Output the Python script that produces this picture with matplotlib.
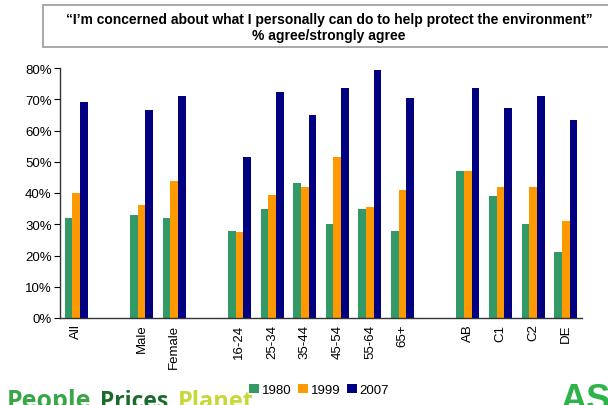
import numpy as np
import matplotlib.pyplot as plt
from matplotlib.patches import Rectangle

plt.rcParams['font.family'] = ['Liberation Sans', 'DejaVu Sans']

# categories (None = empty gap slot)
categories = ['All', None, 'Male', 'Female', None,
              '16-24', '25-34', '35-44', '45-54', '55-64', '65+', None,
              'AB', 'C1', 'C2', 'DE']
years = ['1980', '1999', '2007']
v1980 = [32, None, 33, 32, None, 28, 35, 43.3, 30, 35, 28, None, 47, 39, 30, 21]
v1999 = [40, None, 36.2, 44, None, 27.6, 39.4, 42, 51.6, 35.6, 41, None, 47, 42, 42, 31]
v2007 = [69, None, 66.6, 71, None, 51.6, 72.4, 65, 73.7, 79.5, 70.5, None, 73.7, 67.3, 71, 63.4]
colors = ['#339966', '#FF9900', '#000080']

fig = plt.figure(figsize=(6.08, 4.06), dpi=100)
ax = fig.add_axes([60/608, 87/406, 522/608, 250/406])

x = np.arange(len(categories))
w = 0.235
handles = []
for i, (vals, c, lab) in enumerate(zip([v1980, v1999, v2007], colors, years)):
    xs = [xi + (i - 1) * w for xi, v in zip(x, vals) if v is not None]
    ys = [v / 100 for v in vals if v is not None]
    handles.append(ax.bar(xs, ys, width=w, color=c, label=lab))

ax.set_xlim(-0.5, len(categories) - 0.5)
ax.set_ylim(0, 0.8)
yt = np.arange(0, 0.81, 0.1)
ax.set_yticks(yt)
ax.set_yticklabels([f'{int(round(t*100))}%' for t in yt], fontsize=9.5)
ticks = [xi for xi, c in zip(x, categories) if c is not None]
ax.set_xticks(ticks)
ax.set_xticklabels([c for c in categories if c is not None], rotation=90, fontsize=9.5)
ax.tick_params(axis='x', length=0, pad=4)
ax.tick_params(axis='y', length=4, width=0.8, direction='out', pad=2)
for s in ['top', 'right']:
    ax.spines[s].set_visible(False)
for s in ['left', 'bottom']:
    ax.spines[s].set_color('#333333')
    ax.spines[s].set_linewidth(1)

fig.legend(handles, years, loc='center', bbox_to_anchor=(319/608, 1 - 391/406),
           ncol=3, frameon=False, fontsize=9.5, handlelength=0.75, handleheight=0.75,
           handletextpad=0.2, columnspacing=0.5, borderpad=0, borderaxespad=0)

# title box
fig.patches.append(Rectangle((43/608, 1 - 48/406), 600/608, 42/406, transform=fig.transFigure,
                             facecolor='white', edgecolor='#999999', linewidth=1.2, zorder=0))
fig.text(329/608, 1 - 20/406, '\u201cI\u2019m concerned about what I personally can do to help protect the environment\u201d',
         ha='center', va='center', fontsize=10, fontweight='bold')
fig.text(329/608, 1 - 36/406, '% agree/strongly agree', ha='center', va='center',
         fontsize=10, fontweight='bold')

# logos (cut off at the bottom edge, as in the original slide)
fig.text(7/608, 1 - 408/406, 'People', color='#3aa648', fontsize=18, fontweight='bold',
         family='Open Sans', va='baseline')
fig.text(100/608, 1 - 408/406, 'Prices', color='#1d6b2c', fontsize=16.5, fontweight='bold',
         family='Open Sans', va='baseline')
fig.text(178/608, 1 - 408/406, 'Planet', color='#c5d93a', fontsize=17, fontweight='bold',
         family='Open Sans', va='baseline')
fig.text(560/608, 1 - 410/406, 'ASDA', color='#2db34a', fontsize=26, fontweight='bold',
         va='baseline')

fig.savefig('out.png', dpi=100)
